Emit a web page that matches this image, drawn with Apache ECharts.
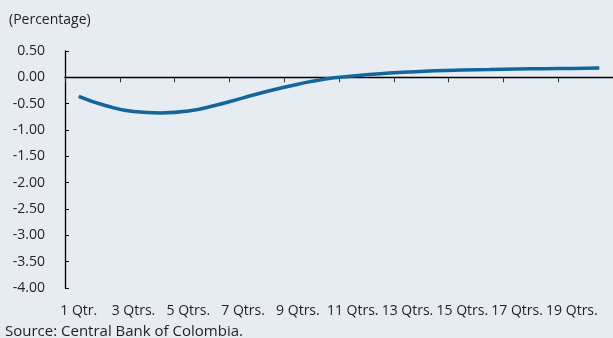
<!DOCTYPE html>
<html>
<head>
<meta charset="utf-8">
<script src="https://cdn.jsdelivr.net/npm/echarts@6/dist/echarts.min.js"></script>
<style>
html,body{margin:0;padding:0;background:#E7EBF2;}
#c{width:613px;height:338px;}
</style>
</head>
<body>
<div id="c"></div>
<script>
var categories = ['1 Qtr.','2 Qtrs.','3 Qtrs.','4 Qtrs.','5 Qtrs.','6 Qtrs.','7 Qtrs.','8 Qtrs.','9 Qtrs.','10 Qtrs.',
  '11 Qtrs.','12 Qtrs.','13 Qtrs.','14 Qtrs.','15 Qtrs.','16 Qtrs.','17 Qtrs.','18 Qtrs.','19 Qtrs.','20 Qtrs.'];
var values = [-0.36,-0.54,-0.65,-0.675,-0.64,-0.53,-0.39,-0.25,-0.13,-0.03,
  0.025,0.07,0.10,0.125,0.14,0.15,0.16,0.165,0.17,0.175];
var yMin = -4, yMax = 0.5, yStep = 0.5;
var unitLabel = '(Percentage)';
var sourceText = 'Source: Central Bank of Colombia.';

var FONT = 'Open Sans';
var TXT = '#231F20';
var chart = echarts.init(document.getElementById('c'), null, {renderer:'canvas'});
chart.setOption({
  backgroundColor: '#E7EBF2',
  animation: false,
  textStyle: {fontFamily: FONT},
  title: [
    {text: unitLabel, left: 4, top: 8, padding: [5,5,5,5], textStyle: {fontFamily: FONT, fontSize: 14, fontWeight: 'normal', color: TXT}},
    {text: sourceText, left: 0, top: 319, padding: [5,5,5,5], textStyle: {fontFamily: FONT, fontSize: 15, fontWeight: 'normal', color: TXT}}
  ],
  grid: {left: 65, right: 0, top: 51, bottom: 50, containLabel: false},
  xAxis: [
    {type: 'category', data: categories, boundaryGap: true,
     axisLine: {show: true, onZero: true, lineStyle: {color: '#000', width: 1.3}},
     axisTick: {show: true, interval: 1, length: 5, lineStyle: {color: '#333'}},
     axisLabel: {show: false}, splitLine: {show: false}},
    {type: 'category', data: categories, boundaryGap: true, position: 'bottom',
     axisLine: {show: false, onZero: false}, axisTick: {show: false},
     axisLabel: {show: true, interval: 1, margin: 16, fontFamily: FONT, fontSize: 14, color: TXT},
     splitLine: {show: false}}
  ],
  yAxis: {type: 'value', min: yMin, max: yMax, interval: yStep,
    axisLine: {show: true, lineStyle: {color: '#000', width: 1.3}},
    axisTick: {show: true, inside: true, length: 4, lineStyle: {color: '#000'}},
    axisLabel: {margin: 20, fontFamily: FONT, fontSize: 14, color: TXT,
      formatter: function(v){ return v.toFixed(2); }},
    splitLine: {show: false}},
  series: [{type: 'line', xAxisIndex: 0, data: values, smooth: true, symbol: 'none',
    lineStyle: {color: '#13669A', width: 3.5}}]
});
</script>
</body>
</html>
